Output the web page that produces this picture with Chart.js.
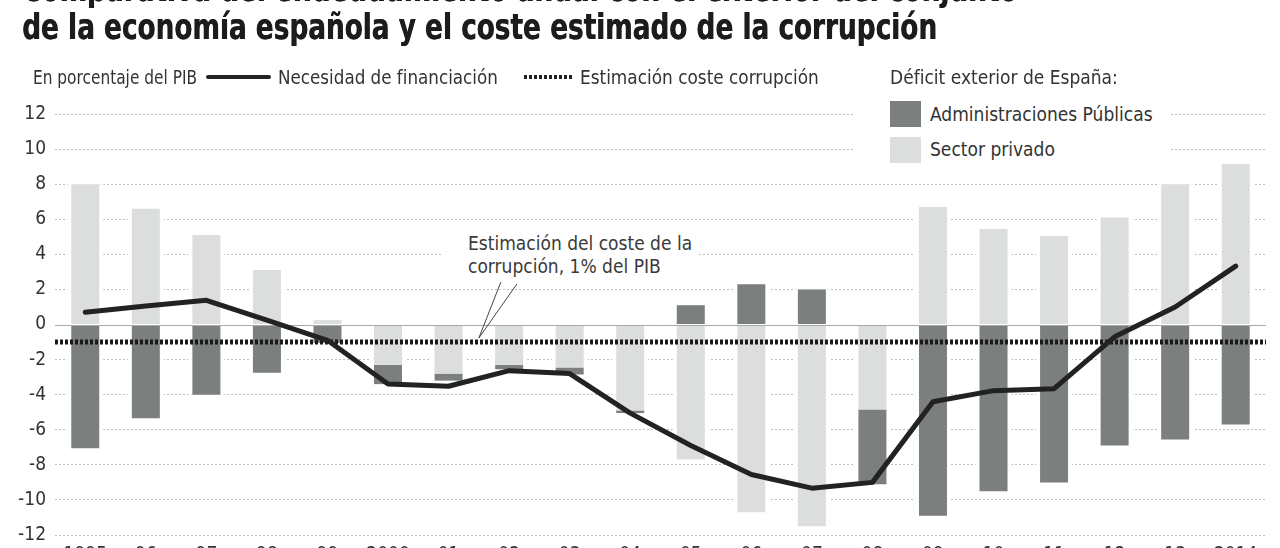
<!DOCTYPE html>
<html lang="es">
<head>
<meta charset="utf-8">
<script src="https://cdn.jsdelivr.net/npm/chart.js@4.4.1/dist/chart.umd.min.js"></script>
<style>
  html, body { margin: 0; padding: 0; background: #fff; overflow: hidden; width: 1280px; height: 548px; }
  body { position: relative; font-family: "DejaVu Sans Condensed", "Liberation Sans Narrow", sans-serif; color: #333; }
  #chartBox { position: absolute; left: 0; top: 0; width: 1280px; height: 580px; }
  .title { position: absolute; left: 22px; top: -30px; font-weight: bold; font-size: 36px; line-height: 38px; color: #1c1c1c; white-space: nowrap; transform: scaleX(0.813); transform-origin: left top; text-shadow: 0.6px 0 0 #1c1c1c; }
  .lbl { position: absolute; font-size: 19px; line-height: 22px; white-space: nowrap; color: #333; transform-origin: left center; }
  .swatch { position: absolute; }
  .blank { position: absolute; background: #fff; }
</style>
</head>
<body>
<div id="chartBox"><canvas id="chart" width="1280" height="580"></canvas></div>

<div class="title">Comparativa del endeudamiento anual con el exterior del conjunto<br>de la economía española y el coste estimado de la corrupción</div>

<!-- top legend row -->
<div class="lbl" style="left:33px; top:66px; transform:scaleX(0.9);">En porcentaje del PIB</div>
<div class="swatch" style="left:206px; top:75px; width:65px; height:4px; background:#222; border-radius:2px;"></div>
<div class="lbl" style="left:278px; top:66px; transform:scaleX(0.98);">Necesidad de financiación</div>
<div class="swatch" style="left:524px; top:75px; width:48px; height:4px; background:repeating-linear-gradient(90deg,#222 0 3px,transparent 3px 5px);"></div>
<div class="lbl" style="left:580px; top:66px; transform:scaleX(0.99);">Estimación coste corrupción</div>
<div class="lbl" style="left:890px; top:66px;">Déficit exterior de España:</div>

<!-- bar legend, over a white box that cuts the grid -->
<div class="blank" style="left:855px; top:98px; width:315px; height:70px;"></div>
<div class="swatch" style="left:890px; top:101px; width:31px; height:26px; background:#7b7f7e;"></div>
<div class="lbl" style="left:930px; top:103px;">Administraciones Públicas</div>
<div class="swatch" style="left:890px; top:137px; width:31px; height:26px; background:#dcdddd;"></div>
<div class="lbl" style="left:930px; top:138px;">Sector privado</div>

<!-- annotation -->
<div class="blank" style="left:442px; top:230px; width:256px; height:50px;"></div>
<div class="lbl" style="left:468px; top:232px; line-height:23px; color:#3a3a3a;">Estimación del coste de la<br>corrupción, 1% del PIB</div>

<script>
// years on the x axis
const years = ["1995", "96", "97", "98", "99", "2000", "01", "02", "03", "04",
  "05", "06", "07", "08", "09", "10", "11", "12", "13", "2014"];

// sector privado (% PIB)
const sectorPrivado = [8.0, 6.6, 5.1, 3.1, 0.25, -2.3, -2.8, -2.3, -2.45, -4.9,
  -7.7, -10.7, -11.5, -4.85, 6.7, 5.45, 5.05, 6.1, 8.0, 9.15];

// administraciones publicas (% PIB)
const adminPublicas = [-7.05, -5.35, -4.0, -2.75, -1.05, -1.1, -0.4, -0.25, -0.4, -0.15,
  1.1, 2.3, 2.0, -4.25, -10.9, -9.5, -9.0, -6.9, -6.55, -5.7];

// necesidad de financiacion (% PIB)
const necesidadFinanciacion = [0.7, 1.05, 1.38, 0.25, -0.9, -3.39, -3.52, -2.63, -2.8, -5.05,
  -6.9, -8.55, -9.33, -9.0, -4.4, -3.77, -3.66, -0.7, 1.0, 3.33];

// coste estimado de la corrupcion
const costeCorrupcion = -1;

const yMin = -12;
const yMax = 12;
const yStep = 2;

const font = { family: "'DejaVu Sans Condensed', 'Liberation Sans Narrow', sans-serif", size: 19 };

// white halo round the bars, then zero line + corruption line before the main line
const extras = {
  id: "extras",
  beforeDatasetsDraw(chart) {
    const ctx = chart.ctx;
    ctx.save();
    ctx.fillStyle = "#fff";
    chart.data.datasets.forEach((ds, i) => {
      const meta = chart.getDatasetMeta(i);
      if (meta.type !== "bar") return;
      meta.data.forEach(el => {
        const { x, y, base, width } = el.getProps(["x", "y", "base", "width"], true);
        const top = Math.min(y, base);
        const bottom = Math.max(y, base);
        ctx.fillRect(x - width / 2 - 4, top, width + 8, bottom - top);
      });
    });
    ctx.restore();
  },
  beforeDatasetDraw(chart, args) {
    if (args.meta.type !== "line") return;
    const ctx = chart.ctx;
    const area = chart.chartArea;
    const yScale = chart.scales.y;
    const xScale = chart.scales.x;

    ctx.save();
    // zero line
    const y0 = Math.round(yScale.getPixelForValue(0)) + 0.5;
    ctx.strokeStyle = "#a9a9a9";
    ctx.lineWidth = 1;
    ctx.beginPath();
    ctx.moveTo(area.left, y0);
    ctx.lineTo(area.right, y0);
    ctx.stroke();

    // corruption cost line
    const yc = yScale.getPixelForValue(costeCorrupcion);
    ctx.strokeStyle = "#1a1a1a";
    ctx.lineWidth = 5;
    ctx.setLineDash([3, 2]);
    ctx.beginPath();
    ctx.moveTo(area.left, yc);
    ctx.lineTo(area.right, yc);
    ctx.stroke();

    // pointer lines from the note down to the corruption line
    ctx.setLineDash([]);
    ctx.lineWidth = 1;
    ctx.strokeStyle = "#444";
    const tipX = (xScale.getPixelForValue(6) + xScale.getPixelForValue(7)) / 2;
    const tipY = yc - 4;
    ctx.beginPath();
    ctx.moveTo(tipX, tipY);
    ctx.lineTo(tipX + 22, tipY - 56);
    ctx.moveTo(tipX, tipY);
    ctx.lineTo(tipX + 38, tipY - 54);
    ctx.stroke();
    ctx.restore();
  }
};

new Chart(document.getElementById("chart"), {
  data: {
    labels: years,
    datasets: [
      {
        type: "bar",
        label: "Sector privado",
        data: sectorPrivado,
        backgroundColor: "#dcdddd",
        stack: "deficit",
        order: 3,
        categoryPercentage: 1,
        barPercentage: 0.4625
      },
      {
        type: "bar",
        label: "Administraciones Públicas",
        data: adminPublicas,
        backgroundColor: "#7b7f7e",
        stack: "deficit",
        order: 3,
        categoryPercentage: 1,
        barPercentage: 0.4625
      },
      {
        type: "line",
        label: "Necesidad de financiación",
        data: necesidadFinanciacion,
        borderColor: "#222",
        borderWidth: 5,
        pointRadius: 0,
        tension: 0,
        borderCapStyle: "round",
        borderJoinStyle: "round",
        order: 1
      }
    ]
  },
  options: {
    responsive: false,
    animation: false,
    devicePixelRatio: 1,
    layout: { padding: { top: 114, right: 14, left: 0, bottom: 0 } },
    plugins: {
      legend: { display: false },
      tooltip: { enabled: false }
    },
    scales: {
      x: {
        stacked: true,
        offset: true,
        grid: { display: false, drawTicks: false },
        border: { display: false },
        ticks: { font: font, color: "#333", padding: 9, maxRotation: 0, autoSkip: false },
        afterFit: s => { s.height = 45; }
      },
      y: {
        stacked: true,
        min: yMin,
        max: yMax,
        grid: {
          color: c => (c.tick && c.tick.value === 0 ? "rgba(0,0,0,0)" : "#bdbdbd"),
          lineWidth: 1,
          drawTicks: false
        },
        border: { display: false, dash: [2, 2] },
        ticks: { stepSize: yStep, font: font, color: "#333", padding: 9 },
        afterFit: s => { s.width = 55; }
      }
    }
  },
  plugins: [extras]
});
</script>
</body>
</html>
